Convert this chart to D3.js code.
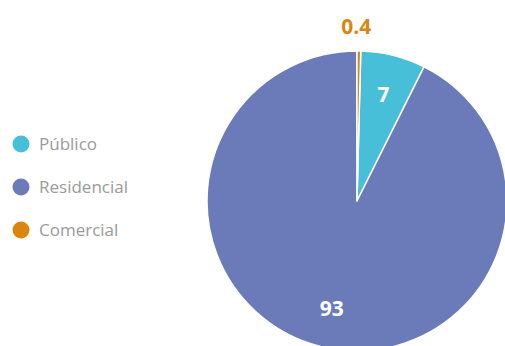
<!DOCTYPE html>
<html>
<head>
<meta charset="utf-8">
<script src="https://cdn.jsdelivr.net/npm/d3@7"></script>
<style>
    body { margin: 0; background: #fff; }
    svg { display: block; font-family: "Open Sans", "Noto Sans", sans-serif; }
</style>
</head>
<body>
<svg id="chart" width="505" height="346"></svg>
<script>
// Legend order
let categories = ["Público", "Residencial", "Comercial"];
let values = [7, 93, 0.4];
let labels = ["7", "93", "0.4"];
let colors = ["#48bfd8", "#6b7bba", "#da860e"];
// Clockwise order of slices from 12 o'clock
let drawOrder = ["Comercial", "Público", "Residencial"];

let cx = 357, cy = 201, radius = 150;

let svg = d3.select("#chart");

let data = categories.map((c, i) => ({ name: c, value: values[i], label: labels[i], color: colors[i] }));

let pie = d3.pie()
    .value(d => d.value)
    .sort((a, b) => drawOrder.indexOf(a.name) - drawOrder.indexOf(b.name));

let arc = d3.arc().innerRadius(0).outerRadius(radius);
let labelArc = d3.arc().innerRadius(110).outerRadius(110);
let outerArc = d3.arc().innerRadius(radius + 25).outerRadius(radius + 25);

let g = svg.append("g").attr("transform", `translate(${cx},${cy})`);

let arcs = pie(data);

g.selectAll("path")
    .data(arcs)
    .enter()
    .append("path")
    .attr("d", arc)
    .attr("fill", d => d.data.color)
    .attr("stroke", "#fff")
    .attr("stroke-width", 1.5)
    .attr("stroke-linejoin", "round");

// Labels: big slices inside, tiny slice outside
g.selectAll("text.lbl")
    .data(arcs)
    .enter()
    .append("text")
    .attr("class", "lbl")
    .attr("transform", d => {
        let small = (d.endAngle - d.startAngle) < 0.2;
        let p = small ? outerArc.centroid(d) : labelArc.centroid(d);
        if (small) p[0] -= 3;
        return `translate(${p[0]},${p[1]})`;
    })
    .attr("text-anchor", "middle")
    .attr("dy", "0.36em")
    .attr("font-size", 21)
    .attr("font-weight", "bold")
    .attr("fill", d => (d.endAngle - d.startAngle) < 0.2 ? d.data.color : "#fff")
    .text(d => d.data.label);

// Legend
let legend = svg.append("g").attr("transform", "translate(21,144)");
let y = d3.scalePoint().domain(categories).range([0, 86]);

let item = legend.selectAll("g")
    .data(data)
    .enter()
    .append("g")
    .attr("transform", d => `translate(0,${y(d.name)})`);

item.append("circle")
    .attr("r", 8.5)
    .attr("fill", d => d.color);

item.append("text")
    .attr("x", 18)
    .attr("dy", "0.35em")
    .attr("font-size", 17)
    .attr("fill", "#9a9a9a")
    .text(d => d.name);
</script>
</body>
</html>
